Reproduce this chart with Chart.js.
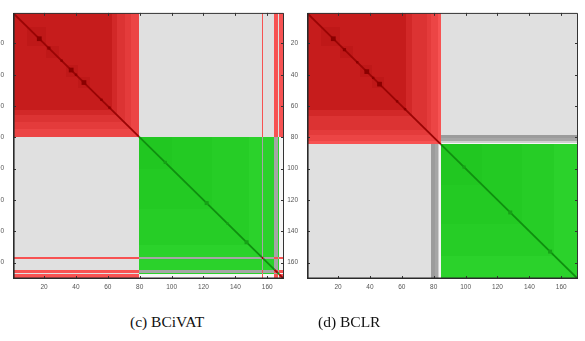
<!DOCTYPE html>
<html><head><meta charset="utf-8">
<script src="https://cdn.jsdelivr.net/npm/chart.js@4.4.1/dist/chart.umd.min.js"></script>
<style>
html,body{margin:0;padding:0;background:#fff;width:585px;height:341px;overflow:hidden;position:relative}
canvas{position:absolute;top:0}
#cvC{left:-30px;width:330px;height:300px}
#cvD{left:260px;width:325px;height:300px}
.cap{position:absolute;font-family:"Liberation Serif","Times New Roman",serif;font-size:15.5px;line-height:16px;color:#111;white-space:nowrap}
</style></head><body>
<canvas id="cvC" width="330" height="300"></canvas>
<canvas id="cvD" width="325" height="300"></canvas>
<div class="cap" id="capC" style="left:130px;top:314px"></div>
<div class="cap" id="capD" style="left:318px;top:314px"></div>
<script>
// ---------------- data ----------------
const N = 170;                                   // ordered objects
const tickValues = [20, 40, 60, 80, 100, 120, 140, 160];
const tickLabels = ['20', '40', '60', '80', '100', '120', '140', '160'];
const captions = ['(c) BCiVAT', '(d) BCLR'];

// (c) BCiVAT : runs [first, last, value] over the ordered positions
const clusterRunsC = [[1,79,'R'],[80,156,'G'],[157,157,'R'],[158,164,'G'],[165,166,'R'],[167,167,'G'],[168,170,'R']];
const shadeRunsC   = [[1,62,0],[63,65,1],[66,70,2],[71,74,3],[75,79,4],[80,100,0],[101,125,1],[126,148,2],[149,156,3],[157,157,5],[158,164,3],[165,166,5],[167,167,3],[168,170,5]];
const crossRunsC   = [[1,156,0],[157,157,2],[158,164,0],[165,166,2],[167,167,0],[168,170,4]];
const subBlocksC   = [[10,21],[22,29],[34,41],[42,48]];
const diagDotsC    = [17,23,31,37,40,45,56,61,96,122,135,147];
const diagDotSizeC = [3,2,1.5,3,1.5,3,1.5,1.5,2,2.5,1.5,2.5];

// (d) BCLR
const clusterRunsD = [[1,84,'R'],[85,170,'G']];
const shadeRunsD   = [[1,62,0],[63,66,1],[67,75,2],[76,78,3],[79,82,4],[83,84,5],[85,110,0],[111,135,1],[136,155,2],[156,170,3]];
const crossRunsD   = [[1,78,0],[79,80,1],[81,82,2],[83,83,3],[84,84,4],[85,170,0]];
const subBlocksD   = [[10,21],[22,29],[34,41],[42,48]];
const diagDotsD    = [17,24,32,38,42,46,57,62,99,128,153];
const diagDotSizeD = [3,2,1.5,3,1.5,3,1.5,1.5,2,2.5,2.5];

// ---------------- colour maps ----------------
const RED   = ['#c61c1c','#d22828','#dc3333','#e43b3b','#ec4545','#f75252'];
const GREEN = ['#21c721','#23ca23','#26cd26','#2bd22b'];
const GRAY  = ['#e0e0e0','#9c9c9c','#a6a6a6','#cfcfcf','#f6f6f6'];
const RED_SUB = '#bf1818', RED_DIAG = '#9a0505', RED_DOT = '#8a0000';
const GREEN_DIAG = '#0f8f0f', GREEN_DOT = '#16a016';

function expand(runs){ const a = new Array(N+1); runs.forEach(([f,l,v])=>{ for(let p=f;p<=l;p++) a[p]=v; }); return a; }
function segmentsOf(spec){
  const cl = expand(spec.clusterRuns), sh = expand(spec.shadeRuns), cr = expand(spec.crossRuns);
  const segs = [];
  for (let p=1;p<=N;p++){
    const key = cl[p]+'|'+sh[p]+'|'+cr[p];
    const last = segs[segs.length-1];
    if (last && last.key===key) last.last = p;
    else segs.push({key, first:p, last:p, cl:cl[p], sh:sh[p], cr:cr[p]});
  }
  return {segs, cl};
}
function cellColor(a,b){
  if (a.cl===b.cl){
    const lv = Math.max(a.sh,b.sh);
    return a.cl==='R' ? RED[lv] : GREEN[Math.min(lv,GREEN.length-1)];
  }
  return GRAY[Math.max(a.cr,b.cr)];
}

const heatPlugin = {
  id:'heat',
  beforeDatasetsDraw(chart){
    const spec = chart.options.plugins.heat.spec;
    const {segs} = segmentsOf(spec);
    const ctx = chart.ctx, xs = chart.scales.x, ys = chart.scales.y, ca = chart.chartArea;
    const px = v=>Math.round(xs.getPixelForValue(v)), py = v=>Math.round(ys.getPixelForValue(v));
    ctx.save();
    ctx.beginPath(); ctx.rect(ca.left, ca.top, ca.right-ca.left, ca.bottom-ca.top); ctx.clip();
    segs.forEach(r=>segs.forEach(c=>{
      ctx.fillStyle = cellColor(r,c);
      const x0=px(c.first-0.5), x1=px(c.last+0.5), y0=py(r.first-0.5), y1=py(r.last+0.5);
      ctx.fillRect(x0,y0,x1-x0,y1-y0);
    }));
    ctx.fillStyle = RED_SUB;
    spec.subBlocks.forEach(([a,b])=>{
      const x0=px(a-0.5), x1=px(b+0.5), y0=py(a-0.5), y1=py(b+0.5);
      ctx.fillRect(x0,y0,x1-x0,y1-y0);
    });
    ctx.restore();
  },
  afterDatasetsDraw(chart){
    const spec = chart.options.plugins.heat.spec;
    const cl = expand(spec.clusterRuns);
    const ctx = chart.ctx, xs = chart.scales.x, ys = chart.scales.y;
    ctx.save();
    spec.dots.forEach((p,i)=>{
      const s = spec.dotSizes[i]/2;
      ctx.fillStyle = cl[p]==='R' ? RED_DOT : GREEN_DOT;
      const x0=xs.getPixelForValue(p-s), x1=xs.getPixelForValue(p+s), y0=ys.getPixelForValue(p-s), y1=ys.getPixelForValue(p+s);
      ctx.fillRect(x0,y0,x1-x0,y1-y0);
    });
    ctx.restore();
  },
  afterDraw(chart){
    const ctx = chart.ctx, ca = chart.chartArea, xs = chart.scales.x, ys = chart.scales.y;
    ctx.save();
    ctx.strokeStyle = '#333';
    ctx.lineWidth = 1;
    ctx.beginPath();
    xs.ticks.forEach(t=>{
      const x = Math.round(xs.getPixelForValue(t.value))+0.5;
      ctx.moveTo(x, ca.bottom); ctx.lineTo(x, ca.bottom-3);
      ctx.moveTo(x, ca.top); ctx.lineTo(x, ca.top+3);
    });
    ys.ticks.forEach(t=>{
      const y = Math.round(ys.getPixelForValue(t.value))+0.5;
      ctx.moveTo(ca.left, y); ctx.lineTo(ca.left+3, y);
      ctx.moveTo(ca.right, y); ctx.lineTo(ca.right-3, y);
    });
    ctx.stroke();
    ctx.beginPath();
    ctx.moveTo(ca.left+0.5, ca.top+0.5); ctx.lineTo(ca.right-0.5, ca.top+0.5); ctx.lineTo(ca.right-0.5, ca.bottom);
    ctx.stroke();
    ctx.lineWidth = 1.6; ctx.strokeStyle = '#2a2a2a';
    ctx.beginPath();
    ctx.moveTo(ca.left+0.8, ca.top); ctx.lineTo(ca.left+0.8, ca.bottom-0.8); ctx.lineTo(ca.right, ca.bottom-0.8);
    ctx.stroke();
    ctx.restore();
  }
};

function diagDatasets(runs){
  return runs.map(([f,l,c])=>({
    data:[{x:f-0.5,y:f-0.5},{x:l+0.5,y:l+0.5}],
    showLine:true, pointRadius:0, borderWidth:1.8,
    borderColor: c==='R' ? RED_DIAG : GREEN_DIAG
  }));
}

function makeChart(id, spec, yWidth, padRight){
  return new Chart(document.getElementById(id), {
    type:'scatter',
    data:{datasets: diagDatasets(spec.clusterRuns)},
    options:{
      responsive:false, animation:false, devicePixelRatio:1,
      layout:{padding:{top:8,right:padRight,left:0,bottom:0}},
      plugins:{legend:{display:false}, tooltip:{enabled:false}, heat:{spec}},
      scales:{
        x:{type:'linear', min:0.5, max:N+0.5,
           grid:{display:false, drawTicks:false}, border:{display:false},
           afterBuildTicks:s=>{ s.ticks = tickValues.map(v=>({value:v})); },
           afterFit:s=>{ s.height = 21; },
           ticks:{padding:4, color:'#555', font:{size:6.5}, maxRotation:0, autoSkip:false,
                  callback:(v)=>tickLabels[tickValues.indexOf(v)] }},
        y:{type:'linear', reverse:true, min:0.5, max:N+0.5,
           grid:{display:false, drawTicks:false}, border:{display:false},
           afterBuildTicks:s=>{ s.ticks = tickValues.map(v=>({value:v})); },
           afterFit:s=>{ s.width = yWidth; },
           ticks:{padding:9, color:'#555', font:{size:6.5}, autoSkip:false,
                  callback:(v)=>tickLabels[tickValues.indexOf(v)] }}
      }
    },
    plugins:[heatPlugin]
  });
}

Chart.defaults.font.family = '"Liberation Sans", Arial, sans-serif';

makeChart('cvC', {clusterRuns:clusterRunsC, shadeRuns:shadeRunsC, crossRuns:crossRunsC,
                  subBlocks:subBlocksC, dots:diagDotsC, dotSizes:diagDotSizeC}, 43, 16);
makeChart('cvD', {clusterRuns:clusterRunsD, shadeRuns:shadeRunsD, crossRuns:crossRunsD,
                  subBlocks:subBlocksD, dots:diagDotsD, dotSizes:diagDotSizeD}, 47, 7);

document.getElementById('capC').textContent = captions[0];
document.getElementById('capD').textContent = captions[1];
</script></body></html>
